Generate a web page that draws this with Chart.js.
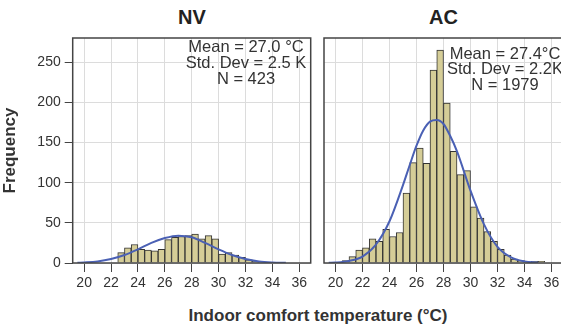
<!DOCTYPE html>
<html>
<head>
<meta charset="utf-8">
<script src="https://cdn.jsdelivr.net/npm/chart.js@4/dist/chart.umd.min.js"></script>
<style>
  body { margin: 0; width: 561px; height: 330px; overflow: hidden; position: relative; background: #fff;
         font-family: "Liberation Sans", Arial, sans-serif; color: #222; }
  .box { position: absolute; top: 0; height: 300px; }
  .ttl { position: absolute; top: 6px; text-align: center; font-weight: bold; font-size: 20px; line-height: 22px; }
  #xtitle { position: absolute; left: 118px; width: 400px; top: 306px; text-align: center;
            font-weight: bold; font-size: 17px; line-height: 20px; color: #333; }
</style>
</head>
<body>
<div class="ttl" style="left:73px;width:238px">NV</div>
<div class="ttl" style="left:324px;width:239px">AC</div>
<div class="box" style="left:0;width:320px"><canvas id="nv" width="320" height="300"></canvas></div>
<div class="box" style="left:316px;width:260px"><canvas id="ac" width="260" height="300"></canvas></div>
<div id="xtitle">Indoor comfort temperature (°C)</div>
<script>
const xTicks = [20, 22, 24, 26, 28, 30, 32, 34, 36];
const yTicks = [0, 50, 100, 150, 200, 250];
const binWidth = 0.5;

// NV histogram (bin left edges, counts)
const nvBins = [22.5, 23, 23.5, 24, 24.5, 25, 25.5, 26, 26.5, 27, 27.5, 28, 28.5, 29, 29.5, 30, 30.5, 31, 31.5, 32, 32.5];
const nvCounts = [13, 19, 23, 17, 16, 15, 17, 29, 32, 33, 34, 36, 30, 34, 30, 11, 13, 10, 7, 4, 2];
// NV fitted curve
const nvFitX = [19.5, 20, 21, 22, 23, 24, 25, 26, 27, 28, 29, 30, 31, 32, 33, 34, 35];
const nvFitY = [0.3, 0.7, 2, 5, 10, 17, 25, 31, 34, 32, 25, 17, 10, 5, 2, 0.7, 0.2];
const nvStats = ['Mean = 27.0 °C', 'Std. Dev = 2.5 K', 'N = 423'];

// AC histogram
const acBins = [20.5, 21, 21.5, 22, 22.5, 23, 23.5, 24, 24.5, 25, 25.5, 26, 26.5, 27, 27.5, 28, 28.5, 29, 29.5,
                30, 30.5, 31, 31.5, 32, 32.5, 33, 33.5, 34, 34.5, 35];
const acCounts = [3, 8, 16, 19, 30, 27, 42, 33, 38, 87, 125, 143, 124, 240, 265, 199, 139, 110, 115,
                  70, 56, 39, 27, 17, 10, 5, 3, 1, 2, 2];
const acFitX = [19.5, 20, 21, 22, 23, 24, 25, 25.5, 26, 26.5, 27, 27.5, 28, 28.5, 29, 30, 31, 32, 33, 34, 35];
const acFitY = [0.2, 0.5, 2.5, 8, 23, 52, 97, 122, 146, 165, 176, 178, 173, 158, 139, 90, 48, 20, 7, 2, 0.5];
const acStats = ['Mean = 27.4°C', 'Std. Dev = 2.2K', 'N = 1979'];

Chart.defaults.font.family = '"Liberation Sans", Arial, sans-serif';
Chart.defaults.color = '#333';

const frame = {
  id: 'frame',
  afterDraw(chart) {
    const a = chart.chartArea, ctx = chart.ctx;
    ctx.save();
    ctx.strokeStyle = '#444';
    ctx.lineWidth = 1.5;
    ctx.strokeRect(a.left, a.top, a.right - a.left, a.bottom - a.top);
    ctx.restore();
  }
};

function statsPlugin(lines, cx, ys) {
  return {
    id: 'stats',
    afterDatasetsDraw(chart) {
      const ctx = chart.ctx;
      ctx.save();
      ctx.font = '16.5px "Liberation Sans", Arial, sans-serif';
      ctx.fillStyle = '#333';
      ctx.textAlign = 'center';
      ctx.textBaseline = 'middle';
      lines.forEach((t, i) => ctx.fillText(t, cx, ys[i]));
      ctx.restore();
    }
  };
}

function makeChart(id, bins, counts, fitX, fitY, stats, cfg) {
  new Chart(document.getElementById(id), {
    type: 'bar',
    data: {
      datasets: [
        {
          type: 'line',
          data: fitX.map((x, i) => ({ x: x, y: fitY[i] })),
          borderColor: '#4a60b4',
          borderWidth: 2,
          pointRadius: 0,
          fill: false,
          cubicInterpolationMode: 'monotone',
          order: 0
        },
        {
          type: 'bar',
          data: bins.map((b, i) => ({ x: b + binWidth / 2, y: counts[i] })),
          backgroundColor: '#d5cd97',
          borderColor: '#333',
          borderWidth: 1,
          barPercentage: 1,
          categoryPercentage: 1,
          order: 1
        }
      ]
    },
    options: {
      responsive: false,
      animation: false,
      layout: { padding: cfg.padding },
      plugins: { legend: { display: false }, tooltip: { enabled: false } },
      scales: {
        x: {
          type: 'linear',
          min: 19.15,
          max: 36.85,
          offset: false,
          afterBuildTicks: s => { s.ticks = xTicks.map(v => ({ value: v })); },
          afterFit: s => { s.height = 37; },
          grid: { color: '#dcdcdc', tickColor: '#444', tickLength: 9, offset: false },
          border: { display: false },
          ticks: { color: '#333', font: { size: 14 }, padding: 3, maxRotation: 0, autoSkip: false }
        },
        y: {
          min: 0,
          max: 280,
          afterBuildTicks: s => { s.ticks = yTicks.map(v => ({ value: v })); },
          afterFit: s => { s.width = cfg.yWidth; },
          grid: { color: '#dcdcdc', tickColor: '#444', tickLength: 8, drawTicks: cfg.yLabels },
          border: { display: false },
          ticks: { display: cfg.yLabels, color: '#333', font: { size: 14 }, padding: 4 },
          title: {
            display: cfg.yLabels,
            text: 'Frequency',
            color: '#333',
            font: { size: 17, weight: 'bold' },
            padding: { top: 0, bottom: 0 }
          }
        }
      }
    },
    plugins: [frame, statsPlugin(stats, cfg.statX, cfg.statY)]
  });
}

makeChart('nv', nvBins, nvCounts, nvFitX, nvFitY, nvStats, {
  padding: { top: 38, left: 0, right: 9.3, bottom: 0 },
  yWidth: 72.7, yLabels: true, statX: 246, statY: [47, 63, 79]
});
makeChart('ac', acBins, acCounts, acFitX, acFitY, acStats, {
  padding: { top: 38, left: 8, right: 13, bottom: 0 },
  yWidth: 0, yLabels: false, statX: 189, statY: [54, 69.5, 85]
});
</script>
</body>
</html>
